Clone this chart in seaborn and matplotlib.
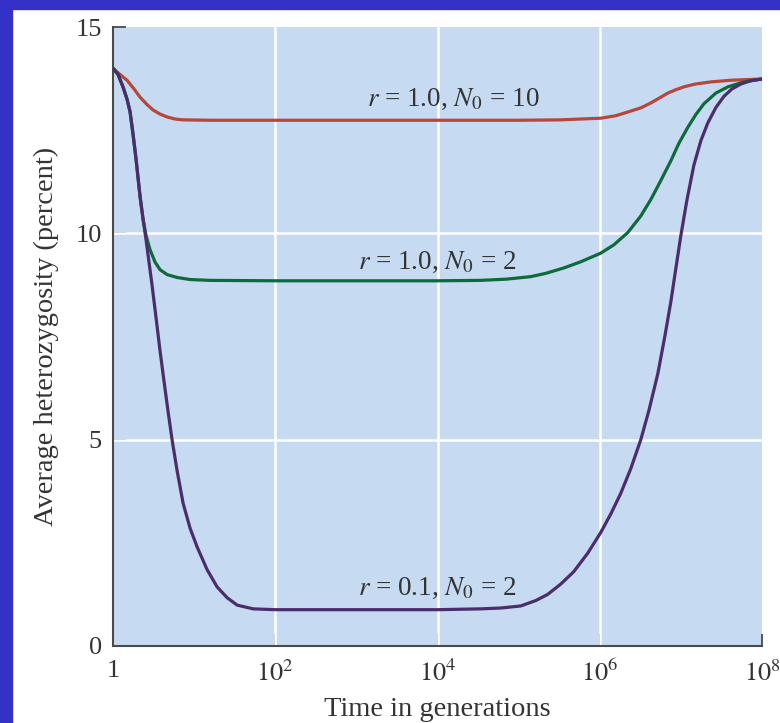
import numpy as np
import pandas as pd
import matplotlib.pyplot as plt
import seaborn as sns
from matplotlib.patches import Rectangle

# log10(generations) and heterozygosity (%)
red_exp = [0, 0.086, 0.173, 0.259, 0.333, 0.42, 0.494, 0.58, 0.667, 0.765, 0.864, 1.2, 2, 3, 4, 5,
           5.519, 6.012, 6.198, 6.346, 6.506, 6.63, 6.753, 6.84, 6.938, 7.037, 7.185, 7.37, 7.617, 8]
red_het = [14.0, 13.85, 13.71, 13.5, 13.3, 13.12, 12.99, 12.89, 12.82, 12.77, 12.75, 12.74, 12.74, 12.74, 12.74, 12.74,
           12.75, 12.79, 12.85, 12.94, 13.04, 13.16, 13.3, 13.4, 13.48, 13.55, 13.62, 13.67, 13.71, 13.74]

green_exp = [0, 0.062, 0.123, 0.173, 0.21, 0.247, 0.284, 0.333, 0.37, 0.407, 0.457, 0.519, 0.58, 0.667,
             0.79, 0.951, 1.2, 2, 3, 4, 4.531, 4.85, 5.148, 5.333, 5.556, 5.765, 6.012, 6.173, 6.346, 6.506,
             6.63, 6.753, 6.877, 6.975, 7.086, 7.185, 7.284, 7.432, 7.58, 7.778, 8]
green_het = [14.0, 13.85, 13.55, 13.25, 12.95, 12.4, 11.8, 10.9, 10.35, 9.95, 9.6, 9.3, 9.12, 9.0,
             8.93, 8.88, 8.86, 8.85, 8.85, 8.85, 8.86, 8.89, 8.95, 9.03, 9.16, 9.31, 9.52, 9.72, 10.02, 10.42,
             10.82, 11.28, 11.76, 12.18, 12.57, 12.88, 13.14, 13.4, 13.55, 13.67, 13.74]

purple_exp = [0, 0.062, 0.123, 0.173, 0.21, 0.247, 0.284, 0.333, 0.37, 0.407, 0.444, 0.481, 0.531, 0.58,
              0.63, 0.679, 0.728, 0.79, 0.864, 0.951, 1.037, 1.16, 1.284, 1.407, 1.531, 1.728, 2, 3, 4,
              4.531, 4.778, 5.025, 5.21, 5.358, 5.519, 5.679, 5.852, 6.012, 6.136, 6.259, 6.383, 6.506,
              6.605, 6.716, 6.802, 6.877, 6.938, 7.0, 7.074, 7.16, 7.247, 7.333, 7.432, 7.531, 7.63,
              7.741, 7.864, 8]
purple_het = [14.0, 13.85, 13.55, 13.25, 12.95, 12.4, 11.8, 10.9, 10.35, 9.85, 9.3, 8.75, 7.95, 7.15,
              6.4, 5.68, 5.0, 4.25, 3.46, 2.85, 2.4, 1.85, 1.43, 1.17, 0.99, 0.9, 0.88, 0.88, 0.88,
              0.9, 0.92, 0.97, 1.1, 1.25, 1.5, 1.8, 2.25, 2.75, 3.2, 3.7, 4.3, 5.0,
              5.7, 6.6, 7.5, 8.35, 9.15, 9.95, 10.8, 11.65, 12.25, 12.68, 13.05, 13.32, 13.5,
              13.62, 13.7, 13.74]

x_ticks = [1, 1e2, 1e4, 1e6, 1e8]
x_ticklabels = ["1", r"$10^{2}$", r"$10^{4}$", r"$10^{6}$", r"$10^{8}$"]
y_ticks = [0, 5, 10, 15]

sns.set_style("ticks", {"axes.facecolor": "#c6daf1"})
plt.rcParams["font.family"] = ["Liberation Serif", "DejaVu Serif"]
plt.rcParams["mathtext.fontset"] = "stix"

fig = plt.figure(figsize=(7.8, 7.23), dpi=100)
# blue frame strips on the left and top edges
fig.patches.append(Rectangle((0, 0), 12 / 780, 1, transform=fig.transFigure,
                             color="#3431c8", zorder=0))
fig.patches.append(Rectangle((0, 1 - 9 / 723), 1, 9 / 723, transform=fig.transFigure,
                             color="#3431c8", zorder=0))
ax = fig.add_axes([113 / 780, 77 / 723, 649 / 780, 619 / 723])

for xv in [1e2, 1e4, 1e6]:
    ax.axvline(xv, color="white", lw=1.8, zorder=1)
for yv in [5, 10]:
    ax.axhline(yv, color="white", lw=1.8, zorder=1)

curves = [(red_exp, red_het, "#b5473c"),
          (green_exp, green_het, "#0e6a3c"),
          (purple_exp, purple_het, "#4b2d6b")]
for exps, het, col in curves:
    df = pd.DataFrame({"gen": 10 ** np.array(exps), "het": het})
    sns.lineplot(data=df, x="gen", y="het", color=col, lw=2.3, ax=ax, zorder=3)

ax.set_xscale("log")
ax.set_xlim(1, 1e8)
ax.set_ylim(0, 15)
ax.set_xticks(x_ticks)
ax.set_xticklabels(x_ticklabels)
ax.minorticks_off()
ax.set_yticks(y_ticks)
ax.tick_params(direction="in", length=9, width=1.3, color="#4a4a4a",
               labelsize=19, labelcolor="#333333", pad=8)
ax.tick_params(axis="x", pad=10)
for s in ["top", "right"]:
    ax.spines[s].set_visible(False)
for s in ["left", "bottom"]:
    ax.spines[s].set_color("#4a4a4a")
    ax.spines[s].set_linewidth(1.5)

ax.set_xlabel("Time in generations", fontsize=20.5, color="#333333", labelpad=8)
ax.set_ylabel("Average heterozygosity (percent)", fontsize=20.5, color="#333333", labelpad=12)

lab_kw = dict(ha="center", va="center", fontsize=19.5, color="#333333", zorder=4)
ax.text(10 ** 4.2, 13.25, r"$r$ = 1.0, $N_0$ = 10", **lab_kw)
ax.text(10 ** 4.0, 9.3, r"$r$ = 1.0, $N_0$ = 2", **lab_kw)
ax.text(10 ** 4.0, 1.4, r"$r$ = 0.1, $N_0$ = 2", **lab_kw)

fig.savefig("out.png", dpi=100)
